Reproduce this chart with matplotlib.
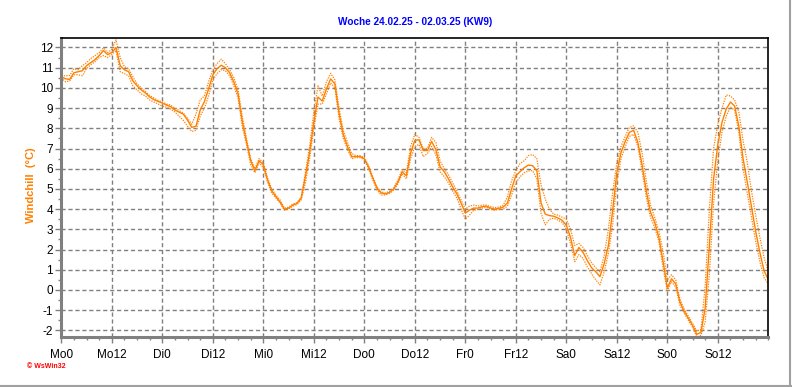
import numpy as np
import matplotlib
matplotlib.use("Agg")
from matplotlib import pyplot as plt
from matplotlib.ticker import MultipleLocator
from matplotlib.lines import Line2D

plt.rcParams['font.family'] = ['Liberation Sans', 'DejaVu Sans']
plt.rcParams['axes.unicode_minus'] = False

# hourly values, Mo 0h .. So 24h
hours = np.arange(169)

windchill = [
    10.55, 10.45, 10.42, 10.75, 10.8, 10.85, 11.1, 11.25, 11.4, 11.6,
    11.85, 11.65, 11.75, 12.0, 11.1, 10.9, 10.8, 10.35, 10.1, 9.9,
    9.75, 9.55, 9.42, 9.33, 9.25, 9.15, 9.07, 8.9, 8.8, 8.7,
    8.4, 8.05, 8.1, 8.9, 9.32, 9.95, 10.64, 10.95, 11.12, 11.0,
    10.75, 10.3, 9.7, 8.35, 7.35, 6.4, 5.9, 6.4, 6.2, 5.45,
    4.9, 4.62, 4.35, 4.0, 4.05, 4.2, 4.28, 4.54, 5.6, 6.8,
    8.3, 9.55, 9.35, 9.95, 10.45, 10.2, 8.75, 7.7, 7.1, 6.6,
    6.6, 6.6, 6.5, 6.1, 5.55, 5.05, 4.8, 4.75, 4.83, 5.0,
    5.35, 5.85, 5.65, 6.77, 7.4, 7.43, 6.9, 6.9, 7.35, 6.95,
    6.1, 5.85, 5.5, 5.1, 4.75, 4.3, 3.8, 3.95, 4.05, 4.05,
    4.12, 4.15, 4.05, 4.0, 4.04, 4.1, 4.3, 5.0, 5.65, 5.85,
    6.05, 6.18, 6.15, 5.9, 4.3, 3.75, 3.68, 3.65, 3.56, 3.45,
    3.2, 2.6, 1.7, 2.1, 1.85, 1.45, 1.1, 0.9, 0.66, 1.3,
    2.2, 3.9, 5.8, 6.8, 7.35, 7.8, 7.9, 7.3, 6.2, 4.9,
    3.85, 3.35, 2.6, 1.4, 0.1, 0.55, 0.3, -0.6, -1.05, -1.4,
    -1.75, -2.2, -2.1, -0.9, 2.2, 5.5, 7.2, 8.3, 8.95, 9.3,
    9.1, 8.1, 6.5, 5.35, 4.12, 2.9, 1.85, 0.95, 0.5,
]

windchill_max = [
    10.6, 10.6, 10.62, 10.95, 10.9, 11.1, 11.25, 11.45, 11.6, 11.75,
    11.98, 11.75, 11.9, 12.38, 11.5, 11.05, 10.95, 10.55, 10.2, 10.0,
    9.82, 9.62, 9.5, 9.38, 9.3, 9.2, 9.15, 9.0, 8.88, 8.75,
    8.5, 8.2, 8.7, 9.4, 9.6, 10.3, 10.9, 11.2, 11.42, 11.2,
    10.9, 10.5, 9.9, 8.6, 7.5, 6.5, 6.0, 6.5, 6.3, 5.55,
    5.0, 4.7, 4.45, 4.05, 4.1, 4.25, 4.32, 4.6, 5.8, 7.1,
    8.8, 10.1, 9.6, 10.3, 10.72, 10.4, 9.0, 7.9, 7.3, 6.75,
    6.65, 6.65, 6.55, 6.15, 5.6, 5.1, 4.85, 4.8, 4.88, 5.05,
    5.45, 5.95, 5.8, 7.1, 7.7, 7.55, 7.0, 7.0, 7.55, 7.3,
    6.4, 6.0, 5.7, 5.3, 4.9, 4.45, 4.0, 4.15, 4.2, 4.15,
    4.2, 4.2, 4.12, 4.08, 4.1, 4.2, 4.6, 5.4, 5.9, 6.25,
    6.4, 6.65, 6.7, 6.5, 5.2, 4.5, 4.0, 3.75, 3.7, 3.6,
    3.5, 3.0, 2.2, 2.3, 2.1, 1.7, 1.35, 1.1, 0.9, 1.7,
    3.0, 4.8, 6.3, 7.1, 7.6, 8.05, 8.12, 7.8, 6.8, 5.4,
    4.2, 3.6, 2.9, 1.9, 0.5, 0.75, 0.5, -0.45, -0.95, -1.3,
    -1.65, -2.05, -1.95, 0.2, 4.0, 7.0, 8.2, 9.0, 9.65, 9.6,
    9.4, 8.8, 7.4, 6.3, 4.9, 3.7, 2.6, 1.6, 0.9,
]

windchill_min = [
    10.5, 10.3, 10.35, 10.65, 10.65, 10.6, 10.95, 11.15, 11.3, 11.5,
    11.6, 11.5, 11.65, 11.85, 10.8, 10.7, 10.6, 10.1, 9.9, 9.7,
    9.6, 9.4, 9.3, 9.2, 9.1, 9.05, 8.95, 8.8, 8.6, 8.4,
    8.1, 7.84, 7.9, 8.6, 9.0, 9.6, 10.4, 10.7, 10.9, 10.85,
    10.6, 10.1, 9.5, 8.1, 7.2, 6.2, 5.8, 6.3, 6.05, 5.35,
    4.8, 4.55, 4.3, 3.95, 4.0, 4.15, 4.22, 4.45, 5.3, 6.5,
    8.0, 9.2, 9.2, 9.7, 10.25, 10.0, 8.5, 7.5, 6.95, 6.5,
    6.55, 6.55, 6.45, 6.0, 5.45, 4.95, 4.7, 4.7, 4.78, 4.95,
    5.25, 5.75, 5.5, 6.5, 7.1, 7.2, 6.6, 6.75, 7.1, 6.7,
    5.85, 5.6, 5.3, 4.9, 4.55, 4.0, 3.5, 3.7, 3.95, 3.98,
    4.05, 4.1, 3.98, 3.95, 3.98, 4.0, 4.15, 4.7, 5.3, 5.6,
    5.8, 5.9, 5.9, 5.5, 3.8, 3.22, 3.5, 3.55, 3.45, 3.35,
    3.0, 2.3, 1.4, 1.75, 1.55, 1.15, 0.8, 0.5, 0.25, 0.9,
    1.8, 3.2, 5.3, 6.5, 7.1, 7.6, 7.7, 7.1, 5.9, 4.6,
    3.6, 3.1, 2.4, 1.1, -0.05, 0.4, 0.15, -0.75, -1.15, -1.5,
    -1.85, -2.33, -2.25, -1.6, 0.8, 4.3, 6.4, 7.8, 8.6, 9.05,
    8.9, 7.8, 6.0, 4.8, 3.6, 2.4, 1.4, 0.6, 0.3,
]

day_names = ["Mo", "Di", "Mi", "Do", "Fr", "Sa", "So"]
x_labels = [d + h for d in day_names for h in ("0", "12")]

title = "Woche 24.02.25 - 02.03.25 (KW9)"
orange = "#ff8000"
grey = "#808080"

fig = plt.figure(figsize=(7.92, 3.87), dpi=100)
ax = fig.add_axes([61.3 / 792, 50 / 387, 707 / 792, 299 / 387])

ax.plot(hours, windchill_max, color=orange, lw=0.9, ls=(0, (1, 1)))
ax.plot(hours, windchill_min, color=orange, lw=0.9, ls=(0, (1, 1)))
ax.plot(hours, windchill, color=orange, lw=1.0)

ax.set_xlim(0, 168)
ax.set_ylim(-2.33, 12.47)

ax.set_xticks(np.arange(0, 168, 12))
ax.set_xticklabels(x_labels)
ax.xaxis.set_minor_locator(MultipleLocator(3))
ax.set_yticks(np.arange(-2, 13, 1))
ax.yaxis.set_minor_locator(MultipleLocator(0.5))

ax.grid(True, which="major", color=grey, ls=(0, (3, 2)), lw=1.0)
ax.set_axisbelow(True)

ax.tick_params(axis="both", which="major", length=4, width=1, color=grey,
               labelsize=8.5, labelcolor="black", pad=5)
ax.tick_params(axis="y", which="major", pad=2)
ax.tick_params(axis="both", which="minor", length=2, width=1, color=grey)

for side in ("left", "bottom"):
    ax.spines[side].set_color(grey)
    ax.spines[side].set_linewidth(2.2)
for side in ("top", "right"):
    ax.spines[side].set_color("black")
    ax.spines[side].set_linewidth(1.2)

fig.text(414.7 / 792, 1 - 22 / 387, title, color="#0000ff", fontsize=7.2,
         fontweight="bold", ha="center", va="center")
fig.text(31 / 792, 1 - 185 / 387, "Windchill  (°C)", color=orange, fontsize=8,
         fontweight="bold", rotation=90, ha="center", va="center")
fig.text(27 / 792, 1 - 367 / 387, "© WsWin32", color="red", fontsize=5,
         fontweight="bold", ha="left", va="center")

# window bevel at bottom and right edge
fig.add_artist(Line2D([0, 1], [1.5 / 387, 1.5 / 387], color="#a0a0a0", lw=1.5,
                      transform=fig.transFigure))
fig.add_artist(Line2D([1 - 2 / 792, 1 - 2 / 792], [0, 1], color="#a0a0a0", lw=1.5,
                      transform=fig.transFigure))

fig.savefig("out.png", dpi=100)
